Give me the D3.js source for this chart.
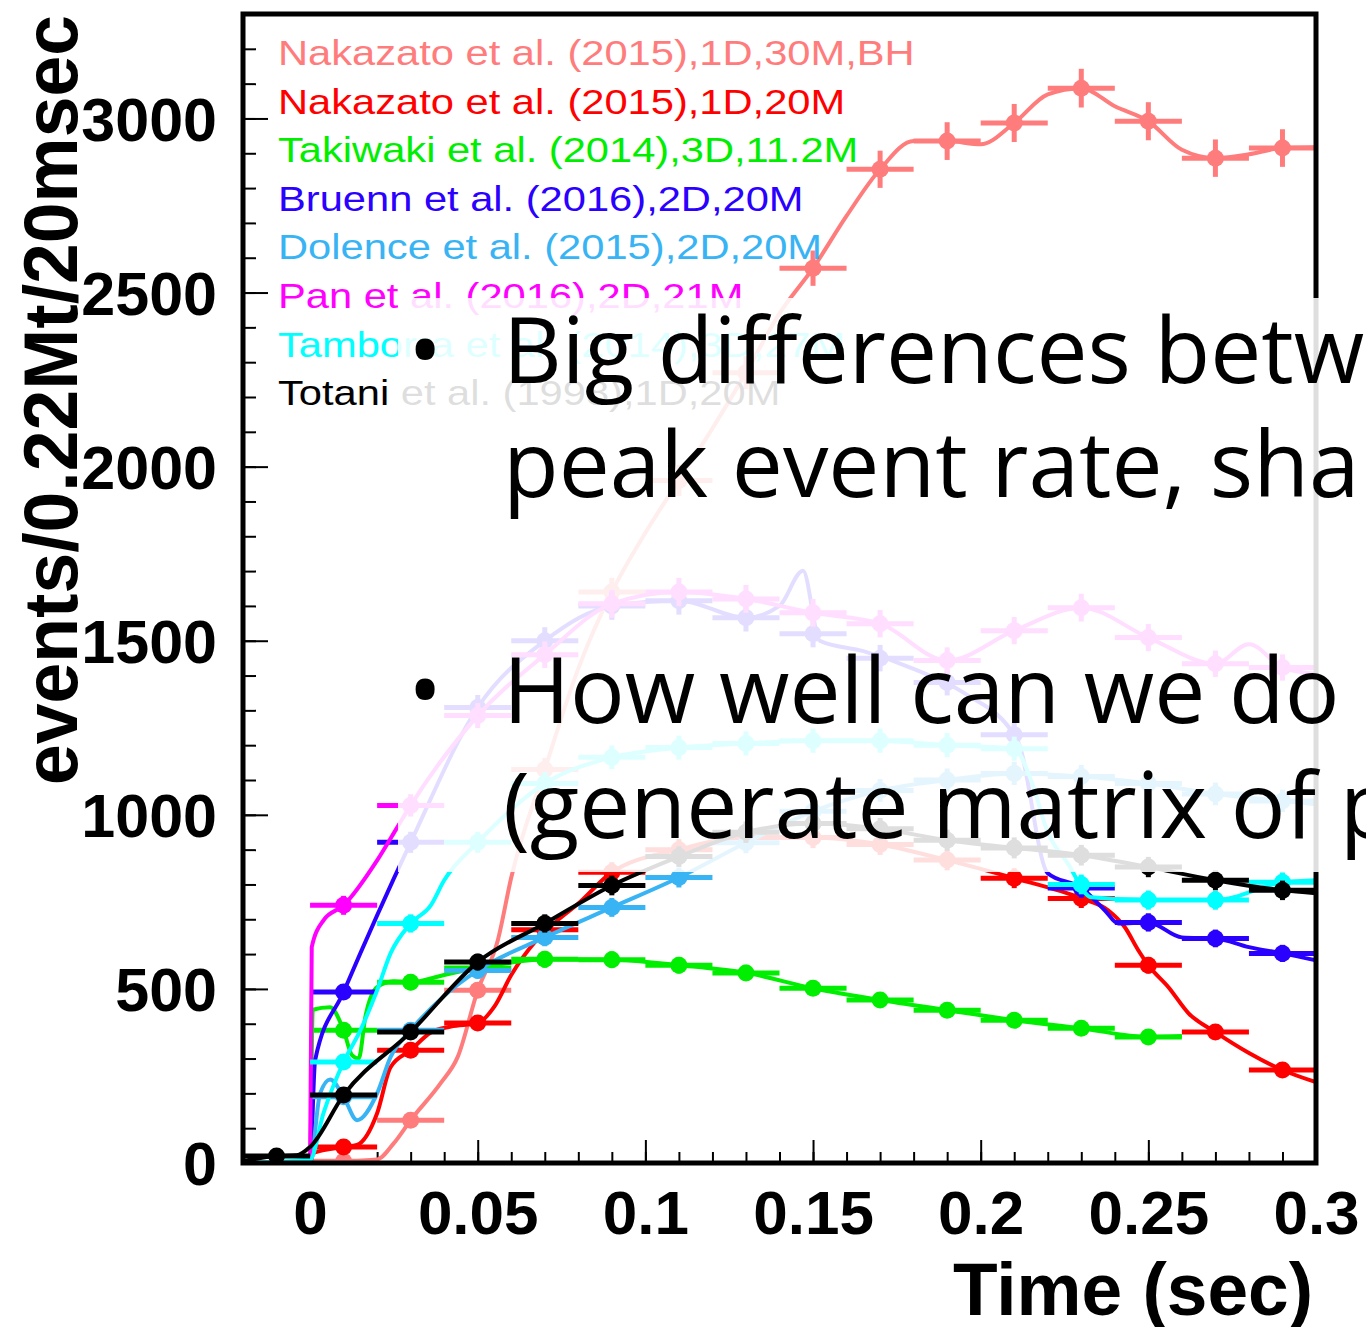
<!DOCTYPE html>
<html>
<head>
<meta charset="utf-8">
<script src="https://cdn.jsdelivr.net/npm/d3@7"></script>
<style>
  body { margin: 0; background: #fff; }
  svg { display: block; }
</style>
</head>
<body>
<svg width="1366" height="1327"></svg>
<script>
// legend entries and colours, in drawing order
const legendLabels = [
    'Nakazato et al. (2015),1D,30M,BH',
    'Nakazato et al. (2015),1D,20M',
    'Takiwaki et al. (2014),3D,11.2M',
    'Bruenn et al. (2016),2D,20M',
    'Dolence et al. (2015),2D,20M',
    'Pan et al. (2016),2D,21M',
    'Tamborra et al. (2014),3D,27M',
    'Totani et al. (1998),1D,20M'
]
const seriesColors = ['#ff7c7c', '#ff0000', '#00ee00', '#2a00ff', '#38b4f4', '#ff00ff', '#00ffff', '#000000']

const xTickValues = [0, 0.05, 0.1, 0.15, 0.2, 0.25, 0.3]
const yTickValues = [0, 500, 1000, 1500, 2000, 2500, 3000]

// [time (sec), events]
const nakazatoBHLine = [[-0.02,0],[0.0,0],[0.02,10],[0.025,57],[0.03,123],[0.039,230],[0.044,304],[0.05,496],[0.056,640],[0.06,820],[0.07,1130],[0.08,1420],[0.09,1640],[0.10,1810],[0.11,1960],[0.12,2110],[0.13,2270],[0.14,2440],[0.15,2570],[0.16,2720],[0.17,2854],[0.18,2935],[0.19,2935],[0.20,2926],[0.21,2987],[0.22,3069],[0.23,3087],[0.24,3035],[0.25,2992],[0.26,2910],[0.27,2886],[0.28,2897],[0.29,2915],[0.30,2917]]
const nakazatoBHMarks = [[0.01,5],[0.03,123],[0.05,496],[0.07,1130],[0.09,1640],[0.11,1960],[0.13,2270],[0.15,2570],[0.17,2854],[0.19,2935],[0.21,2987],[0.23,3087],[0.25,2992],[0.27,2886],[0.29,2915]]

const nakazato20Line = [[-0.02,0],[0.0,0],[0.001,29],[0.01,46],[0.014,52],[0.02,143],[0.024,275],[0.03,324],[0.036,375],[0.042,392],[0.05,402],[0.055,450],[0.06,540],[0.067,634],[0.073,690],[0.08,745],[0.09,835],[0.11,900],[0.13,935],[0.15,935],[0.17,915],[0.19,870],[0.21,818],[0.23,760],[0.238,726],[0.243,677],[0.247,611],[0.25,568],[0.256,505],[0.262,430],[0.27,376],[0.28,316],[0.29,267],[0.30,232]]
const nakazato20Marks = [[0.01,46],[0.03,324],[0.05,402],[0.07,670],[0.09,835],[0.11,900],[0.13,935],[0.15,935],[0.17,915],[0.19,870],[0.21,818],[0.23,760],[0.25,568],[0.27,376],[0.29,267]]

const takiwakiLine = [[-0.02,0],[0.0,0],[0.0008,440],[0.006,447],[0.01,381],[0.0125,310],[0.0145,300],[0.0165,420],[0.02,505],[0.025,522],[0.03,519],[0.04,540],[0.05,560],[0.06,576],[0.07,585],[0.09,584],[0.11,568],[0.13,546],[0.15,502],[0.17,468],[0.19,439],[0.21,410],[0.23,387],[0.25,362],[0.26,365]]
const takiwakiMarks = [[0.01,381],[0.03,519],[0.05,560],[0.07,585],[0.09,584],[0.11,568],[0.13,546],[0.15,502],[0.17,468],[0.19,439],[0.21,410],[0.23,387],[0.25,362]]

const bruennLine = [[-0.02,0],[0.0,0],[0.0015,295],[0.01,491],[0.03,921],[0.05,1308],[0.07,1500],[0.09,1600],[0.11,1615],[0.13,1566],[0.14,1600],[0.147,1701],[0.152,1500],[0.165,1470],[0.179,1423],[0.195,1350],[0.211,1213],[0.22,832],[0.23,790],[0.237,726],[0.241,688],[0.25,691],[0.26,648],[0.27,645],[0.28,620],[0.29,602],[0.30,582]]
const bruennMarks = [[0.01,491],[0.03,921],[0.05,1308],[0.07,1500],[0.09,1600],[0.11,1615],[0.13,1566],[0.15,1520],[0.17,1450],[0.19,1380],[0.21,1230],[0.23,790],[0.25,691],[0.27,645],[0.29,602]]

const dolenceLine = [[-0.02,0],[0.0,0],[0.003,200],[0.006,240],[0.01,190],[0.014,123],[0.02,200],[0.024,304],[0.03,381],[0.04,480],[0.05,553],[0.07,648],[0.09,734],[0.11,820],[0.13,920],[0.15,1010],[0.17,1070],[0.19,1100],[0.21,1119],[0.23,1110],[0.25,1090],[0.27,1060],[0.29,1040],[0.30,1030]]
const dolenceMarks = [[0.01,190],[0.03,381],[0.05,553],[0.07,648],[0.09,734],[0.11,820],[0.13,920],[0.15,1010],[0.17,1070],[0.19,1100],[0.21,1119],[0.23,1110],[0.25,1090],[0.27,1060],[0.29,1040]]

const panLine = [[-0.02,0],[0.0,0],[0.0005,620],[0.004,697],[0.01,740],[0.02,869],[0.026,964],[0.03,1027],[0.05,1285],[0.07,1460],[0.09,1606],[0.11,1640],[0.13,1620],[0.15,1580],[0.17,1549],[0.19,1443],[0.21,1529],[0.23,1595],[0.25,1509],[0.27,1434],[0.28,1490],[0.29,1423],[0.30,1405]]
const panMarks = [[0.01,740],[0.03,1027],[0.05,1285],[0.07,1460],[0.09,1606],[0.11,1640],[0.13,1620],[0.15,1580],[0.17,1549],[0.19,1443],[0.21,1529],[0.23,1595],[0.25,1509],[0.27,1434],[0.29,1423]]

const tamborraLine = [[-0.02,0],[0.0,10],[0.004,143],[0.01,290],[0.015,381],[0.02,496],[0.024,602],[0.03,688],[0.036,740],[0.04,812],[0.05,921],[0.07,1090],[0.09,1165],[0.11,1193],[0.13,1205],[0.15,1213],[0.17,1213],[0.19,1200],[0.21,1190],[0.215,1100],[0.22,950],[0.226,860],[0.233,763],[0.25,755],[0.27,755],[0.29,806],[0.30,812]]
const tamborraMarks = [[0.01,290],[0.03,688],[0.05,921],[0.07,1090],[0.09,1165],[0.11,1193],[0.13,1205],[0.15,1213],[0.17,1213],[0.19,1200],[0.21,1190],[0.23,800],[0.25,755],[0.27,755],[0.29,806]]

const totaniLine = [[-0.02,5],[-0.01,20],[-0.004,22],[0.0,46],[0.01,195],[0.03,376],[0.05,577],[0.07,688],[0.09,797],[0.11,880],[0.13,950],[0.15,975],[0.17,960],[0.19,927],[0.21,905],[0.23,884],[0.25,850],[0.27,812],[0.29,783],[0.30,775]]
const totaniMarks = [[-0.01,20],[0.01,195],[0.03,376],[0.05,577],[0.07,688],[0.09,797],[0.11,880],[0.13,950],[0.15,975],[0.17,960],[0.19,927],[0.21,905],[0.23,884],[0.25,850],[0.27,812],[0.29,783]]

// slide text on top of the plot
const slideLines = [
    'Big differences between',
    'peak event rate, shape',
    'How well can we do model',
    '(generate matrix of probabilities)'
]

let svg = d3.select('svg')
let frame = { left: 243, right: 1316, top: 14, bottom: 1163 }

let scale = {
    x: d3.scaleLinear().domain([-0.02, 0.30]).range([frame.left, frame.right]),
    y: d3.scaleLinear().domain([0, 3300]).range([frame.bottom, frame.top])
}

let series = [
    { line: nakazatoBHLine, marks: nakazatoBHMarks },
    { line: nakazato20Line, marks: nakazato20Marks },
    { line: takiwakiLine, marks: takiwakiMarks },
    { line: bruennLine, marks: bruennMarks },
    { line: dolenceLine, marks: dolenceMarks },
    { line: panLine, marks: panMarks },
    { line: tamborraLine, marks: tamborraMarks },
    { line: totaniLine, marks: totaniMarks }
].map((s, i) => ({ ...s, color: seriesColors[i], label: legendLabels[i] }))

svg.append('defs').append('clipPath')
    .attr('id', 'plot-clip')
    .append('rect')
    .attr('x', frame.left)
    .attr('y', frame.top)
    .attr('width', frame.right - frame.left)
    .attr('height', frame.bottom - frame.top)

let axisFont = '"Liberation Sans", Arial, Helvetica, sans-serif'

// minor ticks
svg.append('g')
    .attr('transform', `translate(0,${frame.bottom})`)
    .call(d3.axisBottom(scale.x).tickValues(d3.range(-2, 31).map(d => d / 100)).tickSize(-11).tickFormat(''))
    .call(g => g.select('.domain').remove())
    .selectAll('line').attr('stroke', '#000').attr('stroke-width', 2)

svg.append('g')
    .attr('transform', `translate(${frame.left},0)`)
    .call(d3.axisLeft(scale.y).tickValues(d3.range(0, 3300, 100)).tickSize(-13).tickFormat(''))
    .call(g => g.select('.domain').remove())
    .selectAll('line').attr('stroke', '#000').attr('stroke-width', 2)

// X axis
let xAxis = svg.append('g')
    .attr('transform', `translate(0,${frame.bottom})`)
    .call(d3.axisBottom(scale.x).tickValues(xTickValues).tickSize(-23).tickPadding(27).tickFormat(d => String(d)))
xAxis.select('.domain').remove()
xAxis.selectAll('line').attr('stroke', '#000').attr('stroke-width', 2)
xAxis.selectAll('text')
    .attr('fill', '#000')
    .style('font-family', axisFont)
    .style('font-weight', 'bold')
    .style('font-size', '62px')

// Y axis
let yAxis = svg.append('g')
    .attr('transform', `translate(${frame.left},0)`)
    .call(d3.axisLeft(scale.y).tickValues(yTickValues).tickSize(-25).tickPadding(26).tickFormat(d3.format('d')))
yAxis.select('.domain').remove()
yAxis.selectAll('line').attr('stroke', '#000').attr('stroke-width', 2)
yAxis.selectAll('text')
    .attr('fill', '#000')
    .attr('dy', '0.36em')
    .style('font-family', axisFont)
    .style('font-weight', 'bold')
    .style('font-size', '61px')

// curves, error bars, markers
let plot = svg.append('g').attr('clip-path', 'url(#plot-clip)')
let line = d3.line()
    .x(d => scale.x(d[0]))
    .y(d => scale.y(d[1]))
    .curve(d3.curveMonotoneX)

series.forEach(s => {
    let g = plot.append('g')
    g.append('path')
        .datum(s.line)
        .attr('fill', 'none')
        .attr('stroke', s.color)
        .attr('stroke-width', 4)
        .attr('stroke-linejoin', 'round')
        .attr('d', line)

    let mark = g.selectAll('.mark')
        .data(s.marks)
        .enter()
        .append('g')
        .attr('class', 'mark')

    mark.append('line')
        .attr('x1', d => scale.x(d[0] - 0.01))
        .attr('x2', d => scale.x(d[0] + 0.01))
        .attr('y1', d => scale.y(d[1]))
        .attr('y2', d => scale.y(d[1]))
        .attr('stroke', s.color)
        .attr('stroke-width', 5)

    mark.append('line')
        .attr('x1', d => scale.x(d[0]))
        .attr('x2', d => scale.x(d[0]))
        .attr('y1', d => scale.y(d[1] + Math.sqrt(d[1])))
        .attr('y2', d => scale.y(Math.max(0, d[1] - Math.sqrt(d[1]))))
        .attr('stroke', s.color)
        .attr('stroke-width', 5)

    mark.append('circle')
        .attr('cx', d => scale.x(d[0]))
        .attr('cy', d => scale.y(d[1]))
        .attr('r', 8.5)
        .attr('fill', s.color)
})

// frame
svg.append('rect')
    .attr('x', frame.left)
    .attr('y', frame.top)
    .attr('width', frame.right - frame.left)
    .attr('height', frame.bottom - frame.top)
    .attr('fill', 'none')
    .attr('stroke', '#000')
    .attr('stroke-width', 5)

// legend
svg.append('g')
    .selectAll('text')
    .data(series)
    .enter()
    .append('text')
    .attr('x', 278)
    .attr('y', (d, i) => 65 + i * 48.6)
    .attr('fill', d => d.color)
    .style('font-family', axisFont)
    .style('font-size', '35px')
    .text(d => d.label)
    .each(function () {
        let len = this.getComputedTextLength()
        d3.select(this).attr('textLength', len * 1.19).attr('lengthAdjust', 'spacingAndGlyphs')
    })

// Y label
svg.append('text')
    .attr('transform', 'translate(77,400) rotate(-90)')
    .attr('text-anchor', 'middle')
    .attr('textLength', 770)
    .attr('lengthAdjust', 'spacingAndGlyphs')
    .style('font-family', axisFont)
    .style('font-weight', 'bold')
    .style('font-size', '76px')
    .text('events/0.22Mt/20msec')

// X label
svg.append('text')
    .attr('x', 953)
    .attr('y', 1315)
    .attr('textLength', 360)
    .attr('lengthAdjust', 'spacingAndGlyphs')
    .style('font-family', axisFont)
    .style('font-weight', 'bold')
    .style('font-size', '74px')
    .text('Time (sec)')

// white slide box over the chart
svg.append('rect')
    .attr('x', 398)
    .attr('y', 298)
    .attr('width', 968)
    .attr('height', 574)
    .attr('fill', '#fff')
    .attr('fill-opacity', 0.87)

let slideBaselines = [383, 497, 723, 838]
let slide = svg.append('g')
    .style('font-family', '"Open Sans", "Noto Sans", sans-serif')
    .style('font-size', '91px')
    .attr('fill', '#000')

slide.selectAll('.line')
    .data(slideLines)
    .enter()
    .append('text')
    .attr('class', 'line')
    .attr('x', 503)
    .attr('y', (d, i) => slideBaselines[i])
    .text(d => d)

slide.selectAll('.bullet')
    .data([0, 2])
    .enter()
    .append('text')
    .attr('class', 'bullet')
    .attr('x', 425)
    .attr('y', d => slideBaselines[d])
    .attr('text-anchor', 'middle')
    .text('•')
</script>
</body>
</html>
